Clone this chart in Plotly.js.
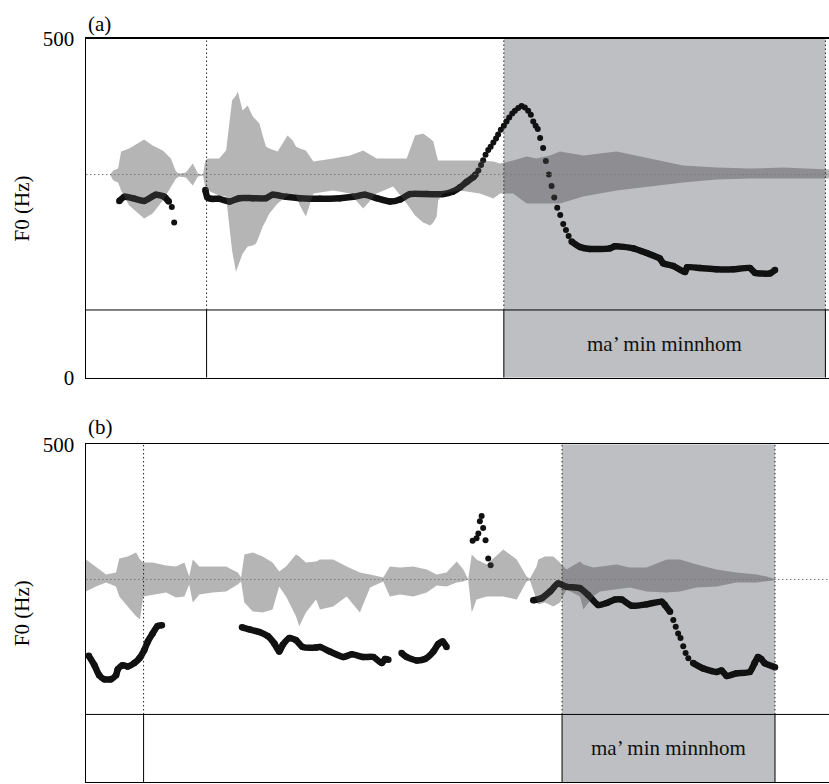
<!DOCTYPE html>
<html><head><meta charset="utf-8">
<script src="https://cdn.plot.ly/plotly-3.0.1.min.js"></script>
<style>html,body{margin:0;padding:0;background:#fff;}#chart{width:829px;height:784px;}</style>
</head><body><div id="chart"></div>
<script>
// ---------- Panel (a) ----------
const aDuration = 2.477;
const aBounds = [0.402, 1.393, 2.465];
const aLabelStart = 1.393, aLabelEnd = 2.465, aLabel = "ma\u2019 min minnhom";

const aWaveT  = [0.080,0.091,0.107,0.117,0.144,0.194,0.222,0.256,0.283,0.300,0.310,0.333,0.356,0.373,0.390,0.398,0.406,0.444,0.467,0.478,0.487,0.500,0.506,0.522,0.539,0.556,0.567,0.578,0.589,0.600,0.611,0.639,0.672,0.689,0.700,0.713,0.733,0.758,0.824,0.880,0.924,0.969,1.024,1.069,1.097,1.124,1.147,1.158,1.169,1.174,1.191,1.247,1.313,1.358,1.380,1.424,1.469,1.502,1.547,1.580,1.658,1.769,1.880,1.991,2.102,2.213,2.324,2.477];
const aWaveUp = [0,0.04,0.06,0.23,0.26,0.35,0.29,0.24,0.16,0.03,0.01,0.02,0.11,0.01,0,0.14,0.16,0.16,0.24,0.54,0.74,0.79,0.83,0.64,0.69,0.58,0.54,0.51,0.39,0.28,0.26,0.23,0.39,0.34,0.28,0.26,0.24,0.13,0.16,0.19,0.24,0.16,0.16,0.16,0.39,0.41,0.36,0.33,0.19,0.14,0.14,0.14,0.14,0.13,0.11,0.14,0.18,0.16,0.19,0.23,0.19,0.23,0.16,0.09,0.07,0.06,0.07,0.05];
const aWaveLo = [0,-0.06,-0.08,-0.16,-0.31,-0.44,-0.39,-0.26,-0.12,-0.04,-0.02,-0.03,-0.11,-0.02,-0.01,-0.14,-0.16,-0.21,-0.22,-0.49,-0.76,-0.97,-0.91,-0.79,-0.72,-0.71,-0.69,-0.61,-0.52,-0.46,-0.39,-0.29,-0.21,-0.19,-0.21,-0.31,-0.42,-0.19,-0.16,-0.19,-0.34,-0.19,-0.12,-0.29,-0.41,-0.48,-0.51,-0.48,-0.42,-0.26,-0.19,-0.16,-0.19,-0.24,-0.19,-0.19,-0.29,-0.29,-0.29,-0.29,-0.22,-0.16,-0.12,-0.08,-0.05,-0.04,-0.04,-0.04];

const aLine1T = [0.111,0.128,0.156,0.194,0.233,0.261,0.276];
const aLine1F = [261,267,265,261,270,267,260];
const aDots1T = [0.286,0.294];
const aDots1F = [252,229];
const aLine2T = [0.398,0.405,0.417,0.444,0.478,0.511,0.556,0.600,0.622,0.667,0.713,0.780,0.847,0.891,0.930,0.969,1.013,1.047,1.080,1.136,1.191,1.224,1.247,1.269,1.291,1.299];
const aLine2F = [277,266,264,264,260,265,265,265,270,267,265,264,265,267,270,265,260,263,271,271,271,275,281,289,296,300];
const aDots2T = [1.308,1.317,1.324,1.332,1.341,1.349,1.358,1.367,1.374,1.383,1.393,1.402,1.411,1.421,1.430,1.441,1.452,1.463,1.474,1.483,1.491,1.499,1.506,1.514,1.524,1.533,1.543,1.552,1.561,1.571,1.581,1.591,1.600,1.609];
const aDots2F = [306,314,321,329,336,341,347,353,359,366,372,378,384,390,394,398,401,399,394,388,378,372,367,354,339,320,300,283,266,251,240,227,218,209];
const aLine3T = [1.619,1.647,1.680,1.747,1.763,1.824,1.869,1.913,1.924,1.958,1.997,2.004,2.047,2.102,2.158,2.213,2.230,2.280,2.297];
const aLine3F = [201,193,190,191,194,191,184,176,169,165,156,163,162,160,160,162,155,154,159];

// ---------- Panel (b) ----------
const bDuration = 2.477;
const bBounds = [0.192, 1.587, 2.297];
const bLabelStart = 1.587, bLabelEnd = 2.297, bLabel = "ma\u2019 min minnhom";

const bWaveT  = [0,0.033,0.067,0.100,0.111,0.139,0.167,0.180,0.191,0.222,0.267,0.300,0.328,0.344,0.356,0.378,0.422,0.467,0.506,0.517,0.528,0.556,0.589,0.622,0.644,0.667,0.700,0.711,0.733,0.767,0.780,0.824,0.869,0.913,0.947,0.991,1.013,1.047,1.091,1.136,1.169,1.202,1.236,1.258,1.274,1.286,1.302,1.336,1.391,1.436,1.469,1.480,1.502,1.508,1.530,1.558,1.580,1.602,1.647,1.658,1.691,1.713,1.769,1.813,1.869,1.936,1.980,2.036,2.102,2.169,2.236,2.269,2.291,2.300];
const bWaveUp = [0.20,0.13,0.05,0.07,0.21,0.23,0.27,0.20,0.17,0.17,0.14,0.13,0.17,0.03,0.20,0.13,0.13,0.13,0.07,0.02,0.25,0.27,0.23,0.17,0.08,0.13,0.25,0.23,0.17,0.18,0.20,0.20,0.13,0.07,0.05,0.02,0.13,0.12,0.13,0.10,0.05,0.07,0.18,0.10,0,0.25,0.20,0.15,0.30,0.20,0.03,0.01,0.13,0.20,0.23,0.23,0.17,0.10,0.18,0.15,0.12,0.13,0.15,0.12,0.12,0.20,0.20,0.15,0.10,0.07,0.05,0.03,0.01,0];
const bWaveLo = [-0.12,-0.07,-0.03,-0.07,-0.17,-0.27,-0.37,-0.40,-0.17,-0.15,-0.13,-0.18,-0.17,-0.05,-0.23,-0.15,-0.13,-0.12,-0.05,-0.02,-0.23,-0.32,-0.33,-0.30,-0.07,-0.17,-0.37,-0.47,-0.33,-0.20,-0.30,-0.27,-0.17,-0.33,-0.08,-0.02,-0.17,-0.15,-0.17,-0.13,-0.06,-0.07,-0.03,-0.02,0,-0.33,-0.20,-0.17,-0.17,-0.20,-0.02,-0.01,-0.20,-0.25,-0.23,-0.27,-0.23,-0.10,-0.17,-0.30,-0.17,-0.12,-0.10,-0.08,-0.12,-0.13,-0.12,-0.08,-0.07,-0.03,-0.03,-0.02,-0.01,0];

const bLine1T = [0.009,0.028,0.044,0.061,0.083,0.100,0.106,0.122,0.139,0.161,0.178,0.194,0.206,0.222,0.239,0.253];
const bLine1F = [187,173,158,152,152,158,167,173,171,176,183,195,208,220,231,232];
const bLine2T = [0.520,0.544,0.578,0.606,0.628,0.644,0.656,0.678,0.700,0.722,0.767,0.780,0.813,0.858,0.886,0.924,0.958,0.986,0.997,1.008];
const bLine2F = [229,226,222,216,205,193,203,213,210,200,199,200,193,185,189,185,185,176,182,181];
const bLine3T = [1.052,1.069,1.102,1.130,1.158,1.174,1.189,1.202];
const bLine3F = [191,185,180,182,193,204,208,200];
const bDots1T = [1.289,1.302,1.308,1.313,1.319,1.324,1.332,1.341,1.349];
const bDots1F = [357,361,368,386,394,376,358,331,321];
const bLine4T = [1.491,1.519,1.547,1.574,1.602,1.647,1.674,1.708,1.736,1.763,1.786,1.819,1.869,1.919,1.930,1.947];
const bLine4F = [269,272,282,294,289,287,277,262,265,270,270,261,263,267,262,252];
const bDots2T = [1.958,1.966,1.974,1.982,1.991,1.999,2.008];
const bDots2F = [240,230,220,213,201,191,183];
const bLine5T = [2.024,2.058,2.102,2.119,2.136,2.169,2.213,2.229,2.240,2.251,2.262,2.297];
const bLine5F = [176,168,163,165,157,161,163,176,185,182,176,170];

const yTicks = [0, 500];
const yTickText = ["0", "500"];
const yTitle = "F0 (Hz)";
const tierTop = 100;   // Hz level of the text-grid tier boundary
const fMax = 500;

// ---------- build ----------
const FONT = 'Liberation Serif, Times New Roman, Times, serif';
const FS = 21;
const INK = '#111';

function waveTrace(T, U, L, xa, ya) {
  return {x: T.concat(T.slice().reverse()), y: U.concat(L.slice().reverse()),
    xaxis: xa, yaxis: ya, type: 'scatter', mode: 'lines', fill: 'toself',
    fillcolor: 'rgba(70,70,72,0.4)', line: {width: 0, color: 'rgba(0,0,0,0)'},
    hoverinfo: 'skip', showlegend: false};
}
function lineTrace(T, F, xa, ya) {
  return {x: T, y: F, xaxis: xa, yaxis: ya, type: 'scatter', mode: 'lines+markers',
    line: {color: INK, width: 6.5, shape: 'spline', smoothing: 0.6},
    marker: {color: INK, size: 6.5}, showlegend: false, hoverinfo: 'skip'};
}
function dotTrace(T, F, xa, ya) {
  return {x: T, y: F, xaxis: xa, yaxis: ya, type: 'scatter', mode: 'markers',
    marker: {color: INK, size: 6}, showlegend: false, hoverinfo: 'skip'};
}

const traces = [
  waveTrace(aWaveT, aWaveUp, aWaveLo, 'x', 'y3'),
  lineTrace(aLine1T, aLine1F, 'x', 'y'), dotTrace(aDots1T, aDots1F, 'x', 'y'),
  lineTrace(aLine2T, aLine2F, 'x', 'y'), dotTrace(aDots2T, aDots2F, 'x', 'y'),
  lineTrace(aLine3T, aLine3F, 'x', 'y'),
  waveTrace(bWaveT, bWaveUp, bWaveLo, 'x2', 'y4'),
  lineTrace(bLine1T, bLine1F, 'x2', 'y2'), lineTrace(bLine2T, bLine2F, 'x2', 'y2'),
  lineTrace(bLine3T, bLine3F, 'x2', 'y2'), dotTrace(bDots1T, bDots1F, 'x2', 'y2'),
  lineTrace(bLine4T, bLine4F, 'x2', 'y2'), dotTrace(bDots2T, bDots2F, 'x2', 'y2'),
  lineTrace(bLine5T, bLine5F, 'x2', 'y2')
];

function panelShapes(bounds, dur, xr, yr, wr, sStart, sEnd) {
  const s = [];
  s.push({type: 'rect', xref: xr, yref: yr, x0: sStart, x1: sEnd, y0: 0, y1: fMax,
    fillcolor: '#bebfc3', line: {width: 0}, layer: 'below'});
  s.push({type: 'line', xref: xr, yref: wr, x0: 0, x1: dur, y0: 0, y1: 0,
    line: {color: '#777', width: 1, dash: '1.5px,2.5px'}, layer: 'above'});
  s.push({type: 'line', xref: xr, yref: yr, x0: 0, x1: dur, y0: tierTop, y1: tierTop,
    line: {color: '#000', width: 1}, layer: 'above'});
  bounds.forEach(b => {
    s.push({type: 'line', xref: xr, yref: yr, x0: b, x1: b, y0: tierTop, y1: fMax,
      line: {color: '#222', width: 1, dash: '1.5px,2.5px'}, layer: 'above'});
    s.push({type: 'line', xref: xr, yref: yr, x0: b, x1: b, y0: 0, y1: tierTop,
      line: {color: '#000', width: 1}, layer: 'above'});
  });
  return s;
}

const axX = {showline: true, mirror: true, linecolor: '#000', linewidth: 1.5,
  showticklabels: false, ticks: '', showgrid: false, zeroline: false, fixedrange: true};
const axY = {range: [0, fMax], tickvals: yTicks, ticktext: yTickText, ticks: '',
  showline: true, linecolor: '#000', linewidth: 1.5, showgrid: false, zeroline: false,
  tickfont: {family: FONT, size: FS, color: '#000'}, ticklabelstandoff: 6};
const axW = {range: [-2.03, 1.355], visible: false, showgrid: false, zeroline: false};

const aDom = [0.5182, 0.9503], bDom = [0.0026, 0.4333];
const tf = {family: FONT, size: FS, color: '#000'};

const layout = {
  width: 829, height: 784, margin: {l: 86, r: 0, t: 0, b: 0},
  paper_bgcolor: '#fff', plot_bgcolor: '#fff', showlegend: false,
  font: tf,
  xaxis: Object.assign({}, axX, {range: [0, aDuration], anchor: 'y', domain: [0, 1]}),
  yaxis: Object.assign({}, axY, {domain: aDom, anchor: 'x'}),
  yaxis3: Object.assign({}, axW, {overlaying: 'y', anchor: 'x'}),
  xaxis2: Object.assign({}, axX, {range: [0, bDuration], anchor: 'y2', domain: [0, 1]}),
  yaxis2: Object.assign({}, axY, {domain: bDom, anchor: 'x2'}),
  yaxis4: Object.assign({}, axW, {overlaying: 'y2', anchor: 'x2'}),
  shapes: panelShapes(aBounds, aDuration, 'x', 'y', 'y3', aLabelStart, aLabelEnd)
    .concat(panelShapes(bBounds, bDuration, 'x2', 'y2', 'y4', bLabelStart, bLabelEnd)),
  annotations: [
    {text: '(a)', xref: 'paper', yref: 'paper', x: 0, y: aDom[1], xanchor: 'left', yanchor: 'bottom',
      yshift: 1, showarrow: false, font: tf},
    {text: '(b)', xref: 'paper', yref: 'paper', x: 0, y: bDom[1], xanchor: 'left', yanchor: 'bottom',
      yshift: 3, showarrow: false, font: tf},
    {text: yTitle, xref: 'paper', yref: 'paper', x: -0.0861, y: (aDom[0] + aDom[1]) / 2, textangle: -90,
      xanchor: 'center', yanchor: 'middle', showarrow: false, font: tf},
    {text: yTitle, xref: 'paper', yref: 'paper', x: -0.0861, y: (bDom[0] + bDom[1]) / 2, textangle: -90,
      xanchor: 'center', yanchor: 'middle', showarrow: false, font: tf},
    {text: aLabel, xref: 'x', yref: 'y', x: (aLabelStart + aLabelEnd) / 2, y: tierTop / 2,
      showarrow: false, font: {family: FONT, size: FS, color: '#111'}},
    {text: bLabel, xref: 'x2', yref: 'y2', x: (bLabelStart + bLabelEnd) / 2, y: tierTop / 2,
      showarrow: false, font: {family: FONT, size: FS, color: '#111'}}
  ]
};

Plotly.newPlot('chart', traces, layout, {displayModeBar: false, staticPlot: true});
</script>
</body></html>
